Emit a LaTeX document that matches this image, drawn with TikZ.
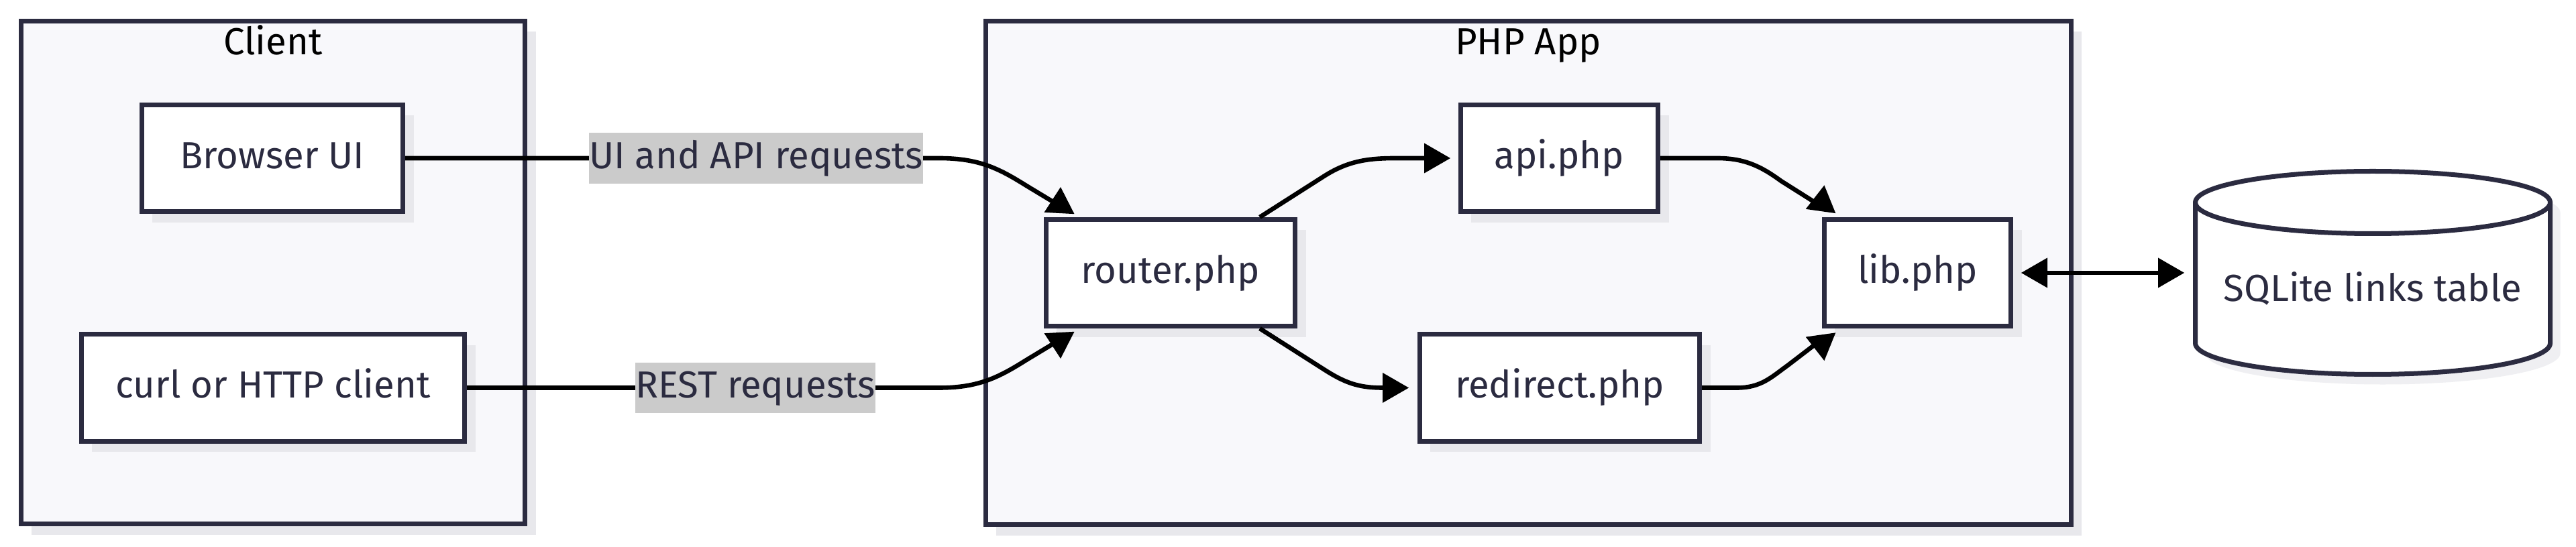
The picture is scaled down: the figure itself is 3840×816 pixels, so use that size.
\documentclass[tikz,border=0pt]{standalone}
\usepackage{fontspec}
\setmainfont{Fira Sans}
\usetikzlibrary{shadows}

\definecolor{inkblue}{HTML}{2B2B40}
\definecolor{clusterfill}{HTML}{F8F8FB}
\definecolor{shadowgrey}{HTML}{E8E8EC}
\definecolor{labelgrey}{HTML}{CBCBCB}

% filled arrow head: base centre #1, pointing to angle #2
\newcommand{\tipmark}[2]{\fill[black, shift={(#1)}, rotate=#2] (39,0) -- (0,22.5) -- (0,-22.5) -- cycle;}

\tikzset{
  txt/.style={text height=0.45cm, text depth=0.15cm},
  filebox/.style={txt, draw=inkblue, line width=0.07cm, fill=white, text=inkblue, inner sep=0pt, minimum height=1.59cm, general shadow={fill=shadowgrey, shadow xshift=0.16cm, shadow yshift=-0.16cm}},
  cluster/.style={draw=inkblue, line width=0.07cm, fill=clusterfill, inner sep=0pt, general shadow={fill=shadowgrey, shadow xshift=0.16cm, shadow yshift=-0.16cm}},
  clustertitle/.style={text=black, anchor=base},
  wire/.style={black, line width=0.066cm},
  edgelabel/.style={txt, fill=labelgrey, text=inkblue, inner xsep=0pt, inner ysep=0.075cm},
}

\begin{document}
\begin{tikzpicture}[x=0.01cm, y=-0.01cm, font=\fontsize{16}{19}\selectfont]
\fill[white] (0,0) rectangle (3840,816);
\useasboundingbox (0,0) rectangle (3840,816);

% groups
\node[cluster, minimum width=7.51cm, minimum height=7.50cm] (client) at (407,406.5) {};
\node[cluster, minimum width=16.17cm, minimum height=7.51cm] (phpapp) at (2278,407) {};
\node[clustertitle] (clienttitle) at (407,82) {Client};
\node[clustertitle] (phptitle) at (2278,82) {PHP App};

% files
\node[filebox, minimum width=3.89cm] (browser) at (406,236) {Browser UI};
\node[filebox, minimum width=5.71cm] (curl) at (407,578.5) {curl or HTTP client};
\node[filebox, minimum width=3.71cm] (router) at (1745,407) {router.php};
\node[filebox, minimum width=2.94cm] (api) at (2324.5,236) {api.php};
\node[filebox, minimum width=4.17cm] (redirect) at (2325,578.5) {redirect.php};
\node[filebox, minimum width=2.78cm] (lib) at (2858.5,407) {lib.php};

% database
\node[minimum width=5.29cm, minimum height=3.03cm, inner sep=0pt] (db) at (3537,407) {};
\filldraw[draw=inkblue, line width=0.07cm, fill=white, general shadow={fill=shadowgrey!70, shadow xshift=0.15cm, shadow yshift=-0.15cm}] (3272.5,302) -- (3272.5,512) arc[start angle=180, end angle=0, x radius=264.5, y radius=46.5] -- (3801.5,302) arc[start angle=0, end angle=-180, x radius=264.5, y radius=46.5] -- cycle;
\draw[draw=inkblue, line width=0.07cm] (3272.5,302) arc[start angle=180, end angle=0, x radius=264.5, y radius=46.5];
\node[txt, text=inkblue] (dblabel) at (3537,434) {SQLite links table};

% arrow ends
\coordinate (rtop) at (1579,318);
\coordinate (rbot) at (1579,496);
\coordinate (apiin) at (2123,236);
\coordinate (redin) at (2061,578.5);
\coordinate (libtop) at (2714,315);
\coordinate (libbot) at (2714,499.5);
\coordinate (libout) at (3052,407);
\coordinate (dbin) at (3217,407);

% connectors
\draw[wire] (browser.east) -- (1400,236) .. controls (1460,236) and (1490,252) .. (1530,277) -- (1578,306);
\draw[wire] (curl.east) -- (1400,578.5) .. controls (1460,578.5) and (1490,562) .. (1530,537) -- (1578,508);
\draw[wire] (router.32) -- (1975,262) .. controls (2010,240) and (2040,236) .. (2080,236) -- (apiin);
\draw[wire] (router.-32) -- (1975,552) .. controls (2005,571) and (2025,578.5) .. (redin);
\draw[wire] (api.east) -- (2560,236) .. controls (2600,236) and (2625,248) .. (2655,270) -- (2712,306);
\draw[wire] (redirect.east) -- (2589,578.5) .. controls (2625,578.5) and (2640,563) .. (2665,545) -- (2712,509);
\draw[wire, shorten <=0.3cm, shorten >=0.3cm] (lib.east) -- (db.west);

\node[edgelabel] (uilabel) at (1127,236) {UI and API requests};
\node[edgelabel] (restlabel) at (1126,578.5) {REST requests};

\tipmark{rtop}{87}
\tipmark{rbot}{-87}
\tipmark{apiin}{0}
\tipmark{redin}{0}
\tipmark{libtop}{82}
\tipmark{libbot}{-82}
\tipmark{libout}{180}
\tipmark{dbin}{0}
\end{tikzpicture}
\end{document}
